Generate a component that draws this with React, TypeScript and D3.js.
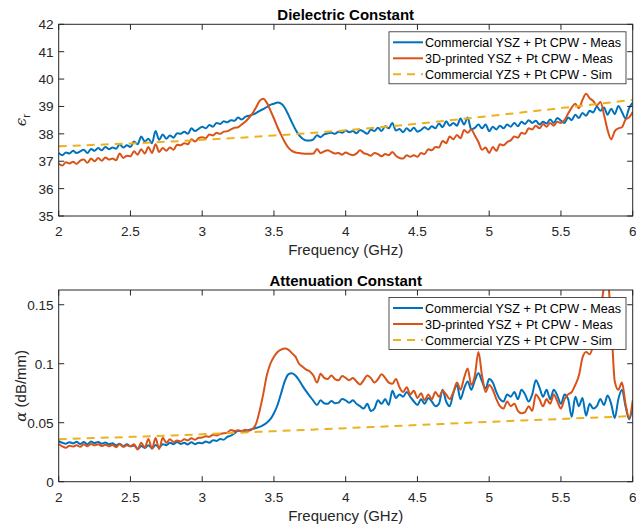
import React from "react";
import * as d3 from "d3";

// Frequency grid (GHz) for measured series: 2.000 .. 6.000 step 0.025
const freqStart = 2;
const freqStep = 0.025;

const legendLabels = [
  "Commercial YSZ + Pt CPW - Meas",
  "3D-printed YSZ + Pt CPW - Meas",
  "Commercial YZS + Pt CPW - Sim",
];

const xTicks = [2, 2.5, 3, 3.5, 4, 4.5, 5, 5.5, 6];
const epsTicks = [35, 36, 37, 38, 39, 40, 41, 42];
const alphaTicks = [0, 0.05, 0.1, 0.15];
const alphaTickLabels = ["0", "0.05", "0.1", "0.15"];

// Dielectric constant, commercial measured
const epsCommercial = [
  37.30, 37.22, 37.32, 37.28, 37.38, 37.30, 37.36, 37.42, 37.30, 37.45,
  37.38, 37.48, 37.40, 37.52, 37.44, 37.50, 37.46, 37.62, 37.50, 37.58,
  37.52, 37.72, 37.62, 37.90, 37.72, 37.82, 37.66, 38.10, 37.78, 37.98,
  37.82, 37.94, 37.86, 38.02, 38.00, 38.08, 38.00, 38.20, 38.10, 38.18,
  38.26, 38.20, 38.32, 38.26, 38.40, 38.36, 38.46, 38.42, 38.50, 38.48,
  38.60, 38.52, 38.62, 38.66, 38.70, 38.76, 38.84, 38.90, 38.98, 39.06,
  39.10, 39.14, 39.10, 38.95, 38.70, 38.42, 38.16, 37.95, 37.82, 37.76,
  37.76, 37.80, 37.95, 37.88, 37.98, 38.02, 38.04, 38.00, 38.08, 38.04,
  38.12, 38.06, 38.10, 38.02, 38.14, 38.08, 38.00, 38.16, 38.10, 38.22,
  38.10, 38.28, 38.20, 38.40, 38.12, 38.18, 38.06, 38.20, 38.10, 38.22,
  38.08, 38.14, 38.24, 38.16, 38.28, 38.20, 38.38, 38.24, 38.46, 38.30,
  38.40, 38.30, 38.56, 38.34, 38.60, 38.16, 38.22, 38.34, 38.20, 38.34,
  38.10, 38.26, 38.16, 38.30, 38.20, 38.34, 38.26, 38.40, 38.28, 38.44,
  38.36, 38.50, 38.40, 38.48, 38.34, 38.44, 38.38, 38.52, 38.40, 38.58,
  38.48, 38.40, 38.60, 38.50, 38.70, 38.58, 38.76, 38.66, 38.84, 38.78,
  39.00, 38.84, 38.96, 38.70, 38.92, 38.72, 39.02, 38.80, 38.56, 38.94,
  39.14,
];

// Dielectric constant, 3D-printed measured
const eps3D = [
  36.92, 36.84, 36.96, 36.92, 36.98, 36.90, 37.02, 37.06, 36.94, 37.10,
  37.00, 37.12, 37.02, 37.14, 37.06, 37.10, 37.04, 37.28, 37.12, 37.20,
  37.18, 37.36, 37.24, 37.44, 37.28, 37.52, 37.30, 37.62, 37.34, 37.48,
  37.38, 37.50, 37.42, 37.60, 37.58, 37.66, 37.62, 37.80, 37.72, 37.84,
  37.88, 37.84, 37.98, 37.94, 38.04, 38.00, 38.08, 38.10, 38.16, 38.22,
  38.24, 38.34, 38.44, 38.58, 38.74, 38.96, 39.20, 39.28, 39.14, 38.86,
  38.56, 38.24, 37.96, 37.70, 37.50, 37.38, 37.32, 37.30, 37.28, 37.27,
  37.27, 37.28, 37.45, 37.30, 37.36, 37.40, 37.34, 37.28, 37.30, 37.24,
  37.32, 37.26, 37.22, 37.28, 37.40, 37.30, 37.26, 37.20, 37.30, 37.26,
  37.18, 37.26, 37.22, 37.34, 37.20, 37.12, 37.10, 37.22, 37.16, 37.22,
  37.16, 37.30, 37.26, 37.44, 37.40, 37.52, 37.50, 37.74, 37.66, 37.90,
  37.80, 37.96, 37.84, 38.14, 38.04, 38.16, 37.94, 37.70, 37.42, 37.50,
  37.30, 37.52, 37.38, 37.62, 37.58, 37.70, 37.76, 37.90, 37.86, 38.04,
  38.00, 38.20, 38.16, 38.30, 38.20, 38.36, 38.26, 38.40, 38.30, 38.44,
  38.40, 38.50, 38.74, 38.96, 39.10, 38.94, 39.24, 39.46, 39.30, 39.20,
  39.04, 39.16, 38.70, 38.14, 37.80, 38.10, 38.20, 38.24, 38.52, 38.60,
  38.80,
];

// Dielectric constant, simulated (coarse)
const epsSimFreq = [2, 2.5, 3, 3.5, 4, 4.5, 5, 5.5, 6];
const epsSim = [37.55, 37.65, 37.78, 37.94, 38.13, 38.37, 38.65, 38.94, 39.24];

// Attenuation, commercial measured (dB/mm)
const alphaCommercial = [
  0.0345, 0.0330, 0.0322, 0.0335, 0.0325, 0.0338, 0.0320, 0.0336, 0.0318, 0.0340,
  0.0328, 0.0336, 0.0322, 0.0332, 0.0318, 0.0326, 0.0308, 0.0322, 0.0300, 0.0318,
  0.0300, 0.0306, 0.0278, 0.0302, 0.0286, 0.0310, 0.0282, 0.0312, 0.0290, 0.0318,
  0.0310, 0.0330, 0.0318, 0.0336, 0.0320, 0.0330, 0.0316, 0.0334, 0.0318, 0.0330,
  0.0326, 0.0340, 0.0330, 0.0352, 0.0346, 0.0362, 0.0356, 0.0380, 0.0390, 0.0410,
  0.0432, 0.0428, 0.0426, 0.0438, 0.0448, 0.0455, 0.0465, 0.0480, 0.0500, 0.0530,
  0.0580, 0.0650, 0.0750, 0.0850, 0.0910, 0.0920, 0.0900, 0.0860, 0.0810, 0.0765,
  0.0725, 0.0685, 0.0650, 0.0690, 0.0665, 0.0660, 0.0685, 0.0665, 0.0670, 0.0700,
  0.0690, 0.0670, 0.0690, 0.0660, 0.0640, 0.0620, 0.0660, 0.0600, 0.0620, 0.0690,
  0.0660, 0.0700, 0.0650, 0.0770, 0.0710, 0.0740, 0.0720, 0.0760, 0.0720, 0.0680,
  0.0650, 0.0700, 0.0660, 0.0710, 0.0680, 0.0640, 0.0660, 0.0780, 0.0680, 0.0640,
  0.0750, 0.0820, 0.0700, 0.0790, 0.0850, 0.0780, 0.0860, 0.0920, 0.0850, 0.0790,
  0.0870, 0.0840, 0.0760, 0.0700, 0.0680, 0.0740, 0.0720, 0.0760, 0.0700, 0.0780,
  0.0740, 0.0680, 0.0740, 0.0860, 0.0800, 0.0720, 0.0780, 0.0700, 0.0780, 0.0730,
  0.0660, 0.0740, 0.0700, 0.0550, 0.0720, 0.0640, 0.0710, 0.0560, 0.0660, 0.0620,
  0.0640, 0.0700, 0.0650, 0.0730, 0.0660, 0.0540, 0.0700, 0.0780, 0.0640, 0.0530,
  0.0640,
];

// Attenuation, 3D-printed measured (dB/mm)
const alpha3D = [
  0.0320, 0.0300, 0.0288, 0.0305, 0.0298, 0.0310, 0.0296, 0.0318, 0.0300, 0.0320,
  0.0308, 0.0318, 0.0302, 0.0314, 0.0300, 0.0312, 0.0292, 0.0318, 0.0296, 0.0308,
  0.0300, 0.0318, 0.0274, 0.0330, 0.0290, 0.0362, 0.0280, 0.0370, 0.0278, 0.0372,
  0.0330, 0.0360, 0.0336, 0.0350, 0.0340, 0.0360, 0.0350, 0.0368, 0.0356, 0.0372,
  0.0374, 0.0386, 0.0380, 0.0398, 0.0392, 0.0405, 0.0410, 0.0416, 0.0438, 0.0430,
  0.0436, 0.0430, 0.0440, 0.0432, 0.0445, 0.0490, 0.0600, 0.0740, 0.0900, 0.1000,
  0.1060, 0.1100, 0.1120, 0.1130, 0.1120, 0.1090, 0.1060, 0.1000, 0.0975, 0.0950,
  0.0935, 0.0900, 0.0840, 0.0915, 0.0880, 0.0870, 0.0900, 0.0870, 0.0860, 0.0895,
  0.0880, 0.0860, 0.0880, 0.0850, 0.0825, 0.0860, 0.0900, 0.0880, 0.0840, 0.0870,
  0.0910, 0.0880, 0.0840, 0.0830, 0.0870, 0.0800, 0.0760, 0.0800, 0.0740, 0.0770,
  0.0710, 0.0750, 0.0690, 0.0740, 0.0700, 0.0760, 0.0720, 0.0770, 0.0740, 0.0700,
  0.0760, 0.0840, 0.0780, 0.0880, 0.0960, 0.0820, 0.0900, 0.1100, 0.0900, 0.0760,
  0.0820, 0.0780, 0.0700, 0.0640, 0.0620, 0.0680, 0.0640, 0.0660, 0.0600, 0.0580,
  0.0590, 0.0640, 0.0600, 0.0740, 0.0700, 0.0640, 0.0700, 0.0660, 0.0740, 0.0680,
  0.0620, 0.0700, 0.0740, 0.0760, 0.0820, 0.0900, 0.1050, 0.1100, 0.1080, 0.1150,
  0.1200, 0.1400, 0.1650, 0.1700, 0.1350, 0.0850, 0.0780, 0.0840, 0.0660, 0.0540,
  0.0690,
];

// Attenuation, simulated (coarse)
const alphaSimFreq = [2, 2.5, 3, 3.5, 4, 4.5, 5, 5.5, 6];
const alphaSim = [0.036, 0.038, 0.0402, 0.0428, 0.0454, 0.048, 0.0507, 0.0532, 0.0556];

const BLUE = "#0072BD";
const ORANGE = "#D95319";
const YELLOW = "#EDB120";
const AXIS = "#262626";
const FONT = "'Liberation Sans', Arial, Helvetica, sans-serif";

const W = 636;
const H = 528;
const LEFT = 58.7;
const RIGHT = 632.7;

type Pt = [number, number];

function toPts(vals: number[]): Pt[] {
  return vals.map((v, i) => [freqStart + i * freqStep, v]);
}

function Panel(props: {
  id: string;
  top: number;
  bottom: number;
  domain: [number, number];
  yTicks: number[];
  yTickLabels: string[];
  title: string;
  ylabel: React.ReactNode;
  series: { pts: Pt[]; color: string; dash?: string }[];
}) {
  const { id, top, bottom, domain, yTicks, yTickLabels, title, ylabel, series } = props;
  const x = d3.scaleLinear().domain([2, 6]).range([LEFT, RIGHT]);
  const y = d3.scaleLinear().domain(domain).range([bottom, top]);
  const line = d3
    .line<Pt>()
    .x((d) => x(d[0]))
    .y((d) => y(d[1]))
    .curve(d3.curveMonotoneX);
  const tl = 5.5;
  const lx = 389;
  const ly = top + 7.5;
  const lw = 237;
  const lh = 52;
  return (
    <g>
      <defs>
        <clipPath id={id}>
          <rect x={LEFT} y={top} width={RIGHT - LEFT} height={bottom - top} />
        </clipPath>
      </defs>
      <rect x={LEFT} y={top} width={RIGHT - LEFT} height={bottom - top} fill="#fff" />
      <g clipPath={`url(#${id})`}>
        {series.map((s, i) => (
          <path
            key={i}
            d={line(s.pts) || ""}
            fill="none"
            stroke={s.color}
            strokeWidth={2}
            strokeDasharray={s.dash}
            strokeLinejoin="round"
          />
        ))}
      </g>
      {/* box */}
      <rect x={LEFT} y={top} width={RIGHT - LEFT} height={bottom - top} fill="none" stroke={AXIS} strokeWidth={1} />
      {/* x ticks */}
      {xTicks.map((t) => (
        <g key={"x" + t}>
          <line x1={x(t)} x2={x(t)} y1={bottom} y2={bottom - tl} stroke={AXIS} />
          <line x1={x(t)} x2={x(t)} y1={top} y2={top + tl} stroke={AXIS} />
          <text x={x(t)} y={bottom + 20} textAnchor="middle" fontSize={13.6} fill={AXIS} fontFamily={FONT}>
            {String(t)}
          </text>
        </g>
      ))}
      {yTicks.map((t, i) => (
        <g key={"y" + t}>
          <line x1={LEFT} x2={LEFT + tl} y1={y(t)} y2={y(t)} stroke={AXIS} />
          <line x1={RIGHT} x2={RIGHT - tl} y1={y(t)} y2={y(t)} stroke={AXIS} />
          <text x={LEFT - 5} y={y(t) + 5} textAnchor="end" fontSize={13.6} fill={AXIS} fontFamily={FONT}>
            {yTickLabels[i]}
          </text>
        </g>
      ))}
      <text x={(LEFT + RIGHT) / 2} y={top - 4.5} textAnchor="middle" fontSize={15} fontWeight="bold" fill="#000" fontFamily={FONT}>
        {title}
      </text>
      <text x={(LEFT + RIGHT) / 2} y={bottom + 39} textAnchor="middle" fontSize={15} fill={AXIS} fontFamily={FONT}>
        Frequency (GHz)
      </text>
      <g transform={`translate(26, ${(top + bottom) / 2}) rotate(-90)`}>{ylabel}</g>
      {/* legend */}
      <rect x={lx} y={ly} width={lw} height={lh} fill="#fff" stroke={AXIS} strokeWidth={0.8} />
      {legendLabels.map((lab, i) => {
        const ry = ly + 10.5 + i * 16;
        const s = series[i];
        return (
          <g key={lab}>
            <line x1={lx + 4} x2={lx + 34} y1={ry} y2={ry} stroke={s.color} strokeWidth={2} strokeDasharray={s.dash} />
            <text x={lx + 36} y={ry + 4.5} fontSize={12.6} fill="#000" fontFamily={FONT}>
              {lab}
            </text>
          </g>
        );
      })}
    </g>
  );
}

export default function App() {
  const topSeries = [
    { pts: toPts(epsCommercial), color: BLUE },
    { pts: toPts(eps3D), color: ORANGE },
    { pts: epsSimFreq.map((f, i) => [f, epsSim[i]] as Pt), color: YELLOW, dash: "8,6" },
  ];
  const botSeries = [
    { pts: toPts(alphaCommercial), color: BLUE },
    { pts: toPts(alpha3D), color: ORANGE },
    { pts: alphaSimFreq.map((f, i) => [f, alphaSim[i]] as Pt), color: YELLOW, dash: "8,6" },
  ];
  return (
    <svg
      width={W}
      height={H}
      style={{ position: "absolute", left: 0, top: 0, background: "#fff" }}
      xmlns="http://www.w3.org/2000/svg"
    >
      <rect x={0} y={0} width={W} height={H} fill="#fff" />
      <Panel
        id="clipTop"
        top={24.3}
        bottom={216}
        domain={[35, 42]}
        yTicks={epsTicks}
        yTickLabels={epsTicks.map(String)}
        title="Dielectric Constant"
        ylabel={
          <text textAnchor="middle" fontSize={15} fill={AXIS} fontFamily={FONT}>
            <tspan fontFamily="'DejaVu Serif', serif" fontStyle="italic">ϵ</tspan>
            <tspan fontSize={11} dy={4}>r</tspan>
          </text>
        }
        series={topSeries}
      />
      <Panel
        id="clipBot"
        top={290}
        bottom={481.7}
        domain={[0, 0.1625]}
        yTicks={alphaTicks}
        yTickLabels={alphaTickLabels}
        title="Attenuation Constant"
        ylabel={
          <text textAnchor="middle" fontSize={15} fill={AXIS} fontFamily={FONT}>
            <tspan fontFamily="'DejaVu Serif', serif" fontStyle="italic">α</tspan>
            <tspan> (dB/mm)</tspan>
          </text>
        }
        series={botSeries}
      />
    </svg>
  );
}
